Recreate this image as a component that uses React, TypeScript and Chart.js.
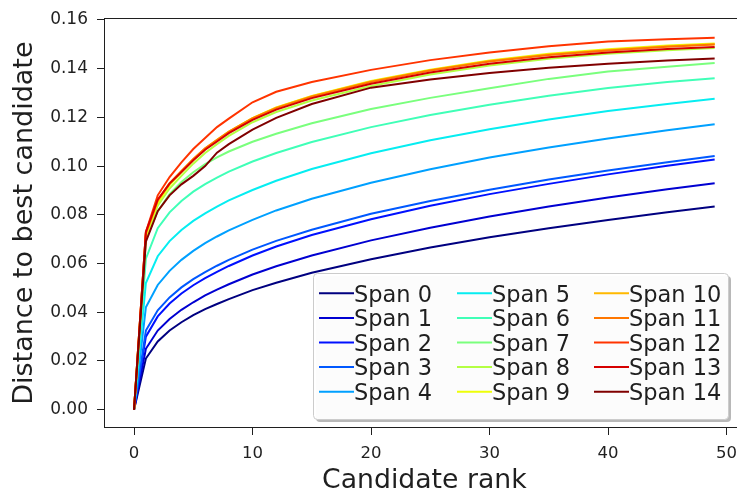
import React, { useEffect, useRef } from "react";
import { Chart, registerables } from "chart.js";

Chart.register(...registerables);

// Candidate ranks at which values were read
const RANKS = [0, 1, 2, 3, 4, 5, 6, 7, 8, 10, 12, 15, 20, 25, 30, 35, 40, 45, 49];

const SPAN_0 = [0, 0.021, 0.028, 0.0325, 0.0359, 0.0388, 0.0413, 0.0434, 0.0454, 0.0491, 0.0521, 0.0562, 0.0618, 0.0666, 0.0708, 0.0745, 0.0779, 0.0811, 0.0834];
const SPAN_1 = [0, 0.025, 0.0325, 0.0372, 0.041, 0.0441, 0.0469, 0.0493, 0.0515, 0.0555, 0.0589, 0.0633, 0.0695, 0.0747, 0.0793, 0.0834, 0.0871, 0.0905, 0.093];
const SPAN_2 = [0, 0.03, 0.0383, 0.0436, 0.0477, 0.0511, 0.054, 0.0566, 0.059, 0.0633, 0.067, 0.0717, 0.0782, 0.0837, 0.0885, 0.0927, 0.0966, 0.1001, 0.1027];
const SPAN_3 = [0, 0.0325, 0.0408, 0.0461, 0.0502, 0.0536, 0.0565, 0.0591, 0.0615, 0.0657, 0.0693, 0.0739, 0.0804, 0.0857, 0.0903, 0.0945, 0.0982, 0.1016, 0.1041];
const SPAN_4 = [0, 0.042, 0.0512, 0.057, 0.0615, 0.0652, 0.0684, 0.0711, 0.0736, 0.0779, 0.0818, 0.0866, 0.0932, 0.0987, 0.1035, 0.1076, 0.1113, 0.1147, 0.1172];
const SPAN_5 = [0, 0.052, 0.063, 0.0692, 0.0738, 0.0775, 0.0806, 0.0834, 0.0859, 0.0902, 0.094, 0.0988, 0.1053, 0.1106, 0.1151, 0.1191, 0.1226, 0.1255, 0.1276];
const SPAN_6 = [0, 0.062, 0.0745, 0.081, 0.0857, 0.0895, 0.0926, 0.0953, 0.0977, 0.1019, 0.1054, 0.1099, 0.116, 0.121, 0.1252, 0.1289, 0.1321, 0.1345, 0.1361];
const SPAN_7 = [0, 0.07, 0.0815, 0.0885, 0.0935, 0.0975, 0.1008, 0.1036, 0.106, 0.11, 0.1133, 0.1176, 0.1234, 0.128, 0.132, 0.1358, 0.1388, 0.1408, 0.1423];
const SPAN_8 = [0, 0.07, 0.0838, 0.0908, 0.096, 0.101, 0.1054, 0.109, 0.1124, 0.118, 0.1222, 0.1269, 0.1329, 0.1376, 0.1413, 0.1441, 0.1461, 0.1476, 0.1485];
const SPAN_9 = [0, 0.0715, 0.085, 0.0922, 0.0974, 0.1024, 0.1069, 0.1106, 0.1141, 0.1197, 0.1241, 0.1288, 0.1349, 0.1396, 0.1433, 0.1461, 0.148, 0.1495, 0.1503];
const SPAN_10 = [0, 0.0722, 0.0858, 0.0928, 0.0978, 0.1028, 0.1072, 0.1108, 0.1142, 0.1197, 0.124, 0.1287, 0.1347, 0.1394, 0.1431, 0.1458, 0.1477, 0.1492, 0.15];
const SPAN_11 = [0, 0.0725, 0.086, 0.093, 0.098, 0.1029, 0.1073, 0.1107, 0.1141, 0.1196, 0.1238, 0.1285, 0.1345, 0.1392, 0.1429, 0.1456, 0.1475, 0.149, 0.1499];
const SPAN_12 = [0, 0.073, 0.088, 0.0955, 0.1015, 0.107, 0.1115, 0.116, 0.1195, 0.1262, 0.1305, 0.1345, 0.1395, 0.1435, 0.1466, 0.1492, 0.1511, 0.1521, 0.1527];
const SPAN_13 = [0, 0.073, 0.0862, 0.0928, 0.0976, 0.1024, 0.1067, 0.1101, 0.1135, 0.119, 0.1232, 0.1279, 0.1338, 0.1384, 0.142, 0.1447, 0.1466, 0.1481, 0.1489];
const SPAN_14 = [0, 0.069, 0.0815, 0.088, 0.0925, 0.096, 0.1, 0.1055, 0.109, 0.115, 0.1198, 0.1255, 0.1322, 0.1355, 0.1382, 0.1404, 0.142, 0.1433, 0.1442];

const SERIES = [SPAN_0, SPAN_1, SPAN_2, SPAN_3, SPAN_4, SPAN_5, SPAN_6, SPAN_7, SPAN_8, SPAN_9, SPAN_10, SPAN_11, SPAN_12, SPAN_13, SPAN_14];
const LABELS = ["Span 0", "Span 1", "Span 2", "Span 3", "Span 4", "Span 5", "Span 6", "Span 7", "Span 8", "Span 9", "Span 10", "Span 11", "Span 12", "Span 13", "Span 14"];
const COLORS = [
  "rgb(0,0,128)", "rgb(0,0,209)", "rgb(0,16,255)", "rgb(0,88,255)", "rgb(0,160,255)",
  "rgb(6,237,241)", "rgb(64,255,183)", "rgb(122,255,125)", "rgb(180,255,67)", "rgb(238,255,9)",
  "rgb(255,185,0)", "rgb(255,119,0)", "rgb(255,52,0)", "rgb(214,0,0)", "rgb(128,0,0)",
];

const X_TICKS = [0, 10, 20, 30, 40, 50];
const Y_TICKS = [0, 0.02, 0.04, 0.06, 0.08, 0.1, 0.12, 0.14, 0.16];

const FONT = "'DejaVu Sans', 'Liberation Sans', sans-serif";
const INK = "#1f1f1f";

const framePlugin = {
  id: "frameAndLegend",
  afterDatasetsDraw(chart: any) {
    const { ctx, chartArea: a } = chart;
    ctx.save();
    // spines
    ctx.strokeStyle = INK;
    ctx.lineWidth = 1;
    ctx.strokeRect(Math.round(a.left) - 0.5, Math.round(a.top) - 0.5, Math.round(a.right - a.left) + 1, Math.round(a.bottom - a.top) + 1);

    // legend box
    const bx = 313, by = 273, bw = 415, bh = 146, r = 4;
    const rr = (x: number, y: number, w: number, h: number) => {
      ctx.beginPath();
      ctx.moveTo(x + r, y);
      ctx.lineTo(x + w - r, y);
      ctx.quadraticCurveTo(x + w, y, x + w, y + r);
      ctx.lineTo(x + w, y + h - r);
      ctx.quadraticCurveTo(x + w, y + h, x + w - r, y + h);
      ctx.lineTo(x + r, y + h);
      ctx.quadraticCurveTo(x, y + h, x, y + h - r);
      ctx.lineTo(x, y + r);
      ctx.quadraticCurveTo(x, y, x + r, y);
      ctx.closePath();
    };
    rr(bx + 3, by + 3, bw, bh);
    ctx.fillStyle = "rgba(0,0,0,0.28)";
    ctx.fill();
    rr(bx + 0.5, by + 0.5, bw, bh);
    ctx.fillStyle = "rgba(255,255,255,0.95)";
    ctx.fill();
    ctx.strokeStyle = "#cccccc";
    ctx.lineWidth = 1;
    ctx.stroke();

    const colX = [319, 457, 594];
    const rowY0 = 293.3, rowDy = 24.6;
    ctx.font = `22.5px ${FONT}`;
    ctx.textBaseline = "alphabetic";
    ctx.textAlign = "left";
    chart.data.datasets.forEach((ds: any, i: number) => {
      const c = Math.floor(i / 5);
      const rIdx = i % 5;
      const x = colX[c];
      const y = rowY0 + rIdx * rowDy;
      ctx.strokeStyle = ds.borderColor;
      ctx.lineWidth = 2;
      ctx.beginPath();
      ctx.moveTo(x, y);
      ctx.lineTo(x + 35, y);
      ctx.stroke();
      ctx.fillStyle = INK;
      ctx.fillText(ds.label, x + 35, y + 8.2);
    });
    ctx.restore();
  },
};

export default function App() {
  const ref = useRef<HTMLCanvasElement | null>(null);

  useEffect(() => {
    if (!ref.current) return;
    const datasets = SERIES.map((vals, i) => ({
      label: LABELS[i],
      data: RANKS.map((x, j) => ({ x, y: vals[j] })),
      borderColor: COLORS[i],
      backgroundColor: COLORS[i],
      borderWidth: 2,
      pointRadius: 0,
      tension: 0,
      fill: false,
      order: SERIES.length - 1 - i,
    }));
    const chart = new Chart(ref.current, {
      type: "line",
      data: { datasets },
      options: {
        responsive: false,
        maintainAspectRatio: false,
        animation: false,
        layout: { padding: { left: 0, top: 11, right: 16.3, bottom: 0 } },
        plugins: { legend: { display: false }, tooltip: { enabled: false } },
        scales: {
          x: {
            type: "linear",
            min: -2.45,
            max: 51.45,
            afterFit: (s: any) => { s.height = 65; },
            afterBuildTicks: (s: any) => { s.ticks = X_TICKS.map((v) => ({ value: v })); },
            grid: { display: true, drawOnChartArea: false, drawTicks: true, tickLength: 8, tickColor: INK, tickWidth: 1 },
            border: { display: false },
            ticks: {
              padding: 9,
              color: INK,
              font: { family: FONT, size: 16.5 },
              maxRotation: 0,
              callback: (v: any) => String(v),
            },
            title: {
              display: true,
              text: "Candidate rank",
              color: INK,
              font: { family: FONT, size: 26.7, lineHeight: 1 },
              padding: { top: 0, bottom: -2.5 },
            },
          },
          y: {
            type: "linear",
            min: -0.0071,
            max: 0.1603,
            afterFit: (s: any) => { s.width = 105; },
            afterBuildTicks: (s: any) => { s.ticks = Y_TICKS.map((v) => ({ value: v })); },
            grid: { display: true, drawOnChartArea: false, drawTicks: true, tickLength: 8, tickColor: INK, tickWidth: 1 },
            border: { display: false },
            ticks: {
              padding: 9,
              color: INK,
              font: { family: FONT, size: 17 },
              callback: (v: any) => Number(v).toFixed(2),
            },
            title: {
              display: true,
              text: "Distance to best candidate",
              color: INK,
              font: { family: FONT, size: 27, lineHeight: 1.2 },
              padding: { top: 8.5, bottom: 0 },
            },
          },
        },
      },
      plugins: [framePlugin],
    });
    return () => chart.destroy();
  }, []);

  return (
    <div style={{ position: "absolute", left: 0, top: 0, width: 737, height: 492, overflow: "hidden", background: "#fff" }}>
      <canvas ref={ref} width={760} height={492} style={{ display: "block", width: 760, height: 492 }} />
    </div>
  );
}
